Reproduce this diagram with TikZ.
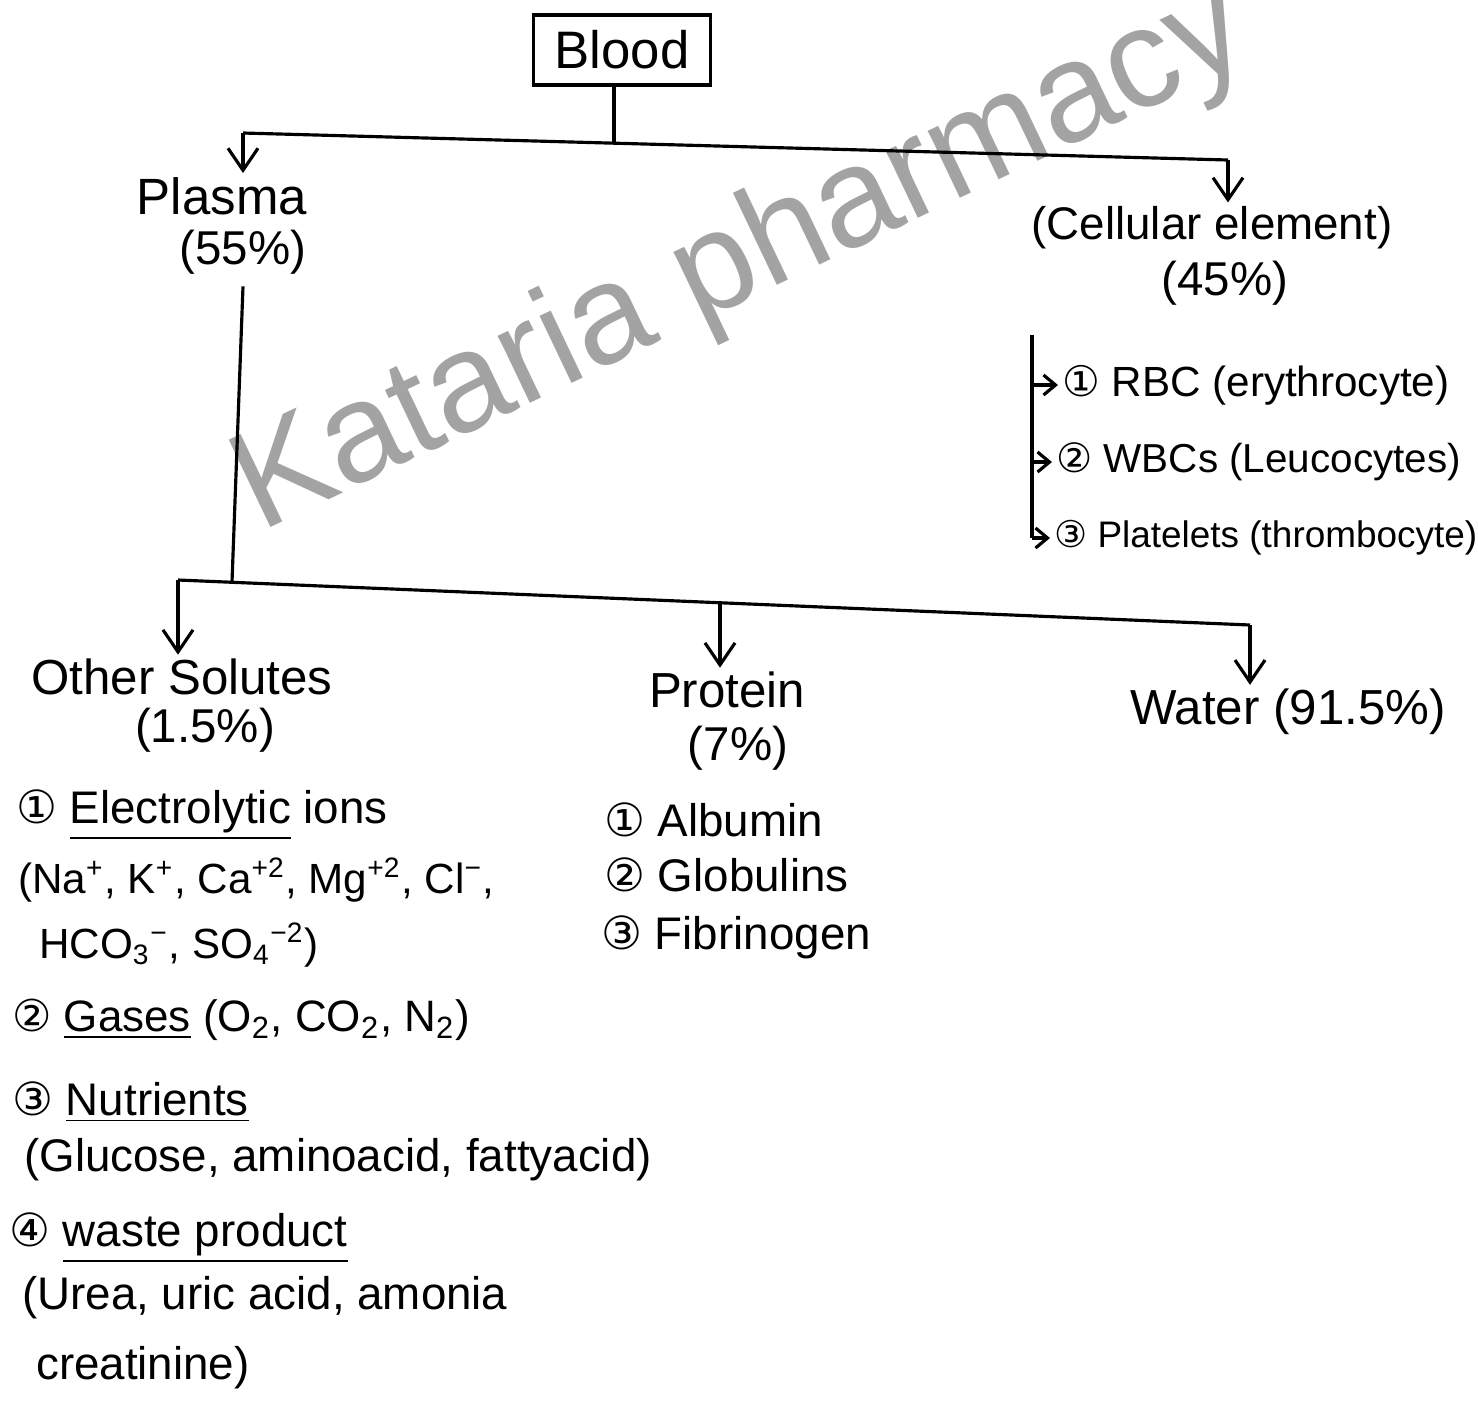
\documentclass[tikz,border=0pt]{standalone}
\usepackage{fontspec}
\setmainfont{Liberation Sans}
\newfontfamily\dejavu{DejaVu Sans}
\usetikzlibrary{arrows.meta}
\newcommand{\cnum}[1]{{\dejavu #1}}
\tikzset{
  ink/.style={draw=black, line width=0.9pt},
  arr/.style={ink, -{Straight Barb[length=2.2mm,width=3mm]}},
  sarr/.style={ink, -{Straight Barb[length=1.2mm,width=2mm]}},
  lbl/.style={font=\fontsize{13.5}{16}\selectfont, inner sep=1pt},
  item/.style={font=\fontsize{13}{16}\selectfont, inner sep=1pt, anchor=west},
  wm/.style={font=\fontsize{40}{48}\selectfont, text=gray!85, opacity=0.85, rotate=25.5}
}
\begin{document}
\begin{tikzpicture}[x=0.01cm,y=-0.01cm]
\useasboundingbox (0,0) rectangle (1478,1417);
\fill[white] (0,0) rectangle (1478,1417);
% watermark
\node[wm] (mark) at (742,262) {Kataria pharmacy};
% top
\node[ink, lbl, font=\fontsize{15}{18}\selectfont, minimum width=1.77cm, minimum height=0.7cm] (blood) at (622,50) {Blood};
\coordinate (j1) at (614,143);
\coordinate (pl) at (243,133);
\coordinate (cr) at (1228,160);
\draw[ink] (blood.south -| j1) -- (j1);
\draw[ink] (pl) -- (cr);
\node[lbl, font=\fontsize{14.5}{17}\selectfont] (plasma) at (222,196) {Plasma};
\node[lbl] (plasmapct) at (243,252) {(55\%)};
\node[lbl, font=\fontsize{13}{16}\selectfont] (cell) at (1212,228) {(Cellular element)};
\node[lbl] (cellpct) at (1225,283) {(45\%)};
\draw[arr] (pl) -- (pl |- plasma.north);
\draw[arr] (cr) -- (cr |- cell.north);
% cellular elements
\coordinate (b0) at (1032,335);
\node[item, font=\fontsize{12}{15}\selectfont] (rbc) at (1058,385) {\cnum{①} RBC (erythrocyte)};
\node[item, font=\fontsize{11.5}{14}\selectfont] (wbc) at (1052,462) {\cnum{②} WBCs (Leucocytes)};
\node[item, font=\fontsize{10.5}{13}\selectfont] (plt) at (1050,538) {\cnum{③} Platelets (thrombocyte)};
\coordinate (b3) at (b0 |- plt.west);
\draw[ink] (b0) -- (b3);
\draw[sarr] (b0 |- rbc.west) -- (rbc.west);
\draw[sarr] (b0 |- wbc.west) -- (wbc.west);
\draw[sarr] (b3) -- (plt.west);
% plasma branches
\coordinate (j2) at (232,582);
\coordinate (os) at (178,580);
\coordinate (pr) at (720,603);
\coordinate (wa) at (1250,625);
\draw[ink] (plasmapct.south) ++(0,8) coordinate (p0) (p0) -- (j2);
\draw[ink] (os) -- (wa);
\node[lbl, font=\fontsize{14}{17}\selectfont] (other) at (182,677) {Other Solutes};
\node[lbl] (otherpct) at (205,730) {(1.5\%)};
\node[lbl, font=\fontsize{14}{17}\selectfont] (prot) at (727,690) {Protein};
\node[lbl] (protpct) at (738,748) {(7\%)};
\node[lbl, font=\fontsize{14}{17}\selectfont] (water) at (1288,712) {Water (91.5\%)};
\draw[arr] (os) -- (os |- other.north);
\draw[arr] (pr) -- (pr |- prot.north);
\draw[arr] (wa) -- (wa |- water.north);
% other solutes list
\node[item] (e1) at (12,815) {\cnum{①} \underline{Electrolytic} ions};
\node[item, font=\fontsize{12}{15}\selectfont] (e2) at (14,880) {(Na\textsuperscript{+}, K\textsuperscript{+}, Ca\textsuperscript{+2}, Mg\textsuperscript{+2}, Cl\textsuperscript{−},};
\node[item, font=\fontsize{12}{15}\selectfont] (e3) at (35,945) {HCO\textsubscript{3}\textsuperscript{−}, SO\textsubscript{4}\textsuperscript{−2})};
\node[item, font=\fontsize{12.5}{15}\selectfont] (g) at (8,1020) {\cnum{②} \underline{Gases} (O\textsubscript{2}, CO\textsubscript{2}, N\textsubscript{2})};
\node[item] (n) at (8,1102) {\cnum{③} \underline{Nutrients}};
\node[item] (n2) at (20,1160) {(Glucose, aminoacid, fattyacid)};
\node[item] (w) at (5,1238) {\cnum{④} \underline{waste product}};
\node[item] (w2) at (18,1298) {(Urea, uric acid, amonia};
\node[item] (w3) at (32,1368) {creatinine)};
% protein list
\node[item] (p1) at (600,820) {\cnum{①} Albumin};
\node[item] (p2) at (600,875) {\cnum{②} Globulins};
\node[item] (p3) at (597,937) {\cnum{③} Fibrinogen};
\end{tikzpicture}
\end{document}
